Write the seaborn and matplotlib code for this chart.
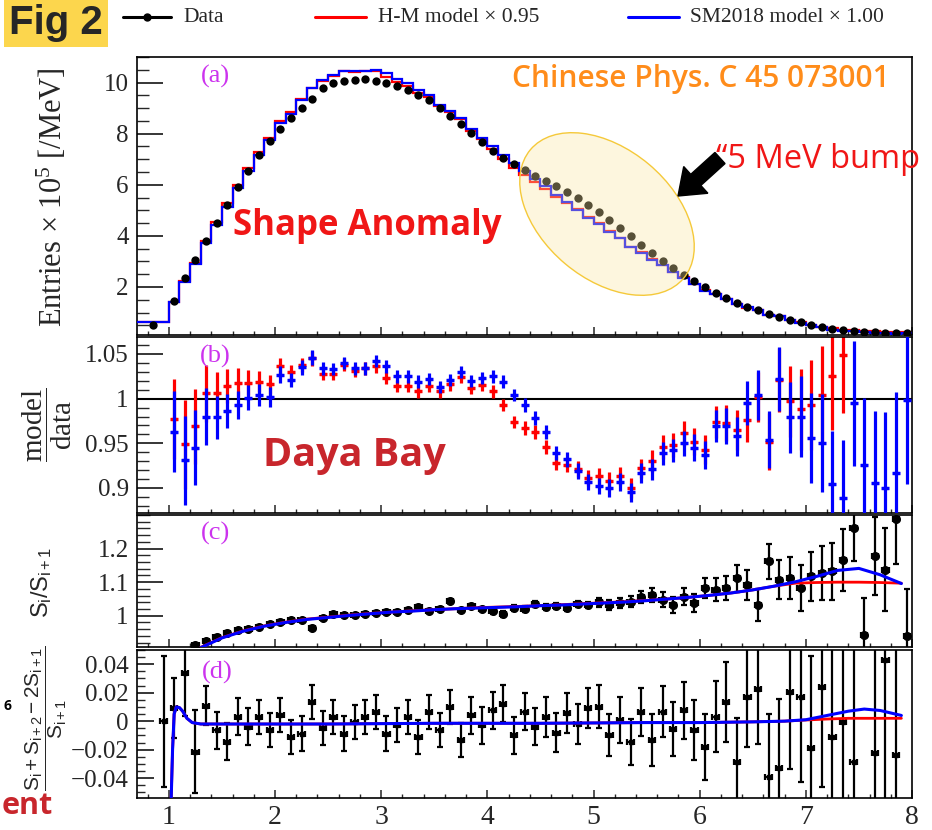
import numpy as np
import matplotlib
matplotlib.use("Agg")
import matplotlib.pyplot as plt
import seaborn as sns
from matplotlib.patches import Ellipse, FancyArrow
from matplotlib.lines import Line2D
from matplotlib.transforms import IdentityTransform
from matplotlib.ticker import MultipleLocator

# ---------------------------------------------------------------- data
energy = np.round(np.arange(1.05, 8.0, 0.1), 2)          # bin centres, MeV (0.1 MeV bins)
low_bin_edges = [0.7, 1.0]
low_bin_data = [0.51]
low_bin_model = [0.63]

data_a = [1.45, 2.35, 3.05, 3.78, 4.50, 5.20, 5.90, 6.52, 7.15, 7.72,
          8.20, 8.60, 9.00, 9.35, 9.78, 9.98, 10.06, 10.10, 10.12, 10.08,
          10.00, 9.88, 9.72, 9.53, 9.30, 9.02, 8.70, 8.36, 8.02, 7.66,
          7.33, 7.05, 6.82, 6.58, 6.36, 6.16, 5.95, 5.72, 5.47, 5.20,
          4.93, 4.62, 4.31, 3.98, 3.65, 3.33, 3.03, 2.74, 2.47, 2.22,
          1.98, 1.76, 1.56, 1.38, 1.22, 1.08, 0.95, 0.83, 0.72, 0.62,
          0.52, 0.44, 0.37, 0.31, 0.27, 0.24, 0.22, 0.20, 0.19, 0.18]

hm_ratio = [0.977, 0.949, 0.969, 1.006, 1.006, 1.014, 1.018, 1.018, 1.019, 1.016,
            1.036, 1.030, 1.038, 1.045, 1.028, 1.028, 1.038, 1.031, 1.034, 1.036,
            1.023, 1.014, 1.014, 1.008, 1.014, 1.008, 1.016, 1.024, 1.012, 1.015,
            1.008, 0.993, 0.974, 0.967, 0.963, 0.946, 0.928, 0.926, 0.921, 0.911,
            0.913, 0.908, 0.913, 0.900, 0.922, 0.930, 0.946, 0.948, 0.961, 0.952,
            0.943, 0.974, 0.973, 0.965, 0.976, 1.002, 0.952, 1.021, 0.997, 0.988,
            0.993, 1.004, 1.025, 1.049, 1.170, 1.220, 1.250, 1.200, 1.280, 1.240]

sm_ratio = [0.963, 0.931, 0.945, 0.980, 0.979, 0.986, 0.993, 1.001, 1.004, 1.002,
            1.027, 1.021, 1.035, 1.046, 1.034, 1.033, 1.040, 1.034, 1.034, 1.042,
            1.036, 1.025, 1.025, 1.019, 1.022, 1.013, 1.021, 1.030, 1.020, 1.023,
            1.025, 1.019, 1.004, 0.993, 0.978, 0.963, 0.939, 0.932, 0.919, 0.907,
            0.902, 0.900, 0.907, 0.895, 0.917, 0.921, 0.939, 0.942, 0.950, 0.945,
            0.937, 0.969, 0.969, 0.958, 0.995, 1.004, 0.954, 1.022, 0.979, 0.980,
            0.956, 0.950, 0.904, 0.889, 0.995, 0.926, 0.906, 0.900, 0.917, 0.999]

ratio_err = [0.045, 0.050, 0.042, 0.032, 0.024, 0.019, 0.016, 0.014, 0.012, 0.011,
             0.009, 0.008, 0.008, 0.008, 0.007, 0.007, 0.007, 0.007, 0.007, 0.007,
             0.007, 0.007, 0.007, 0.007, 0.007, 0.007, 0.007, 0.007, 0.007, 0.007,
             0.007, 0.007, 0.007, 0.008, 0.008, 0.008, 0.008, 0.008, 0.009, 0.009,
             0.009, 0.010, 0.010, 0.011, 0.011, 0.012, 0.013, 0.013, 0.014, 0.015,
             0.016, 0.018, 0.020, 0.022, 0.025, 0.028, 0.032, 0.036, 0.040, 0.045,
             0.050, 0.055, 0.060, 0.065, 0.070, 0.075, 0.080, 0.085, 0.090, 0.095]

c_energy = energy[2:]
c_vals = [0.913, 0.925, 0.938, 0.950, 0.958, 0.960, 0.968, 0.975,
          0.982, 0.986, 0.987, 0.965, 0.993, 1.004, 1.002, 1.001, 1.006, 1.009,
          1.010, 1.012, 1.016, 1.026, 1.015, 1.020, 1.043, 1.018, 1.028, 1.020,
          1.015, 1.006, 1.022, 1.020, 1.034, 1.026, 1.030, 1.024, 1.036, 1.031,
          1.040, 1.033, 1.038, 1.042, 1.057, 1.062, 1.048, 1.033, 1.057, 1.038,
          1.083, 1.078, 1.083, 1.112, 1.092, 1.033, 1.162, 1.107, 1.112, 1.083,
          1.117, 1.127, 1.132, 1.167, 1.262, 0.944, 1.177, 1.137, 1.287, 0.939]
c_err = [0.004, 0.004, 0.004, 0.004, 0.004, 0.004, 0.004, 0.004,
         0.004, 0.004, 0.004, 0.004, 0.004, 0.004, 0.004, 0.004, 0.004, 0.004,
         0.006, 0.006, 0.006, 0.006, 0.006, 0.006, 0.006, 0.006, 0.006, 0.006,
         0.009, 0.009, 0.009, 0.009, 0.009, 0.009, 0.009, 0.009, 0.009, 0.009,
         0.014, 0.015, 0.016, 0.017, 0.018, 0.020, 0.022, 0.024, 0.026, 0.028,
         0.030, 0.033, 0.036, 0.040, 0.044, 0.048, 0.053, 0.058, 0.063, 0.068,
         0.074, 0.080, 0.086, 0.092, 0.100, 0.108, 0.116, 0.124, 0.132, 0.140]

c_curve_x = np.round(np.arange(1.3, 7.95, 0.2), 2)
c_curve_sm = [0.905, 0.934, 0.954, 0.969, 0.980, 0.989, 0.995, 1.001, 1.006, 1.011,
              1.014, 1.018, 1.021, 1.023, 1.025, 1.027, 1.030, 1.032, 1.035, 1.038,
              1.041, 1.045, 1.050, 1.055, 1.061, 1.068, 1.077, 1.088, 1.101, 1.117,
              1.135, 1.141, 1.122, 1.096]
c_curve_hm = [0.906, 0.935, 0.955, 0.970, 0.981, 0.990, 0.996, 1.002, 1.007, 1.011,
              1.015, 1.018, 1.021, 1.024, 1.026, 1.028, 1.030, 1.033, 1.036, 1.039,
              1.042, 1.046, 1.050, 1.055, 1.061, 1.068, 1.077, 1.088, 1.097, 1.099,
              1.100, 1.100, 1.099, 1.097]

d_energy = np.round(np.arange(0.95, 8.0, 0.1), 2)
d_vals = [0.0,
          0.009, 0.0335, -0.0215, 0.011, -0.0063, -0.0145, 0.0030, -0.0040, 0.0030, -0.0063,
          0.0042, -0.0110, -0.0087, 0.0136, -0.0051, 0.0030, -0.0087, -0.0004, 0.0030, 0.0065,
          -0.0087, -0.0028, 0.0030, -0.0110, 0.0065, -0.0063, 0.0100, -0.0133, 0.0042, -0.0028,
          0.0077, 0.0124, -0.0098, 0.0065, -0.0040, 0.0030, -0.0080, 0.0060, -0.0020, 0.0090,
          0.0101, -0.0098, 0.0007, -0.0145, 0.0066, -0.0133, 0.0066, -0.0052, 0.0077, -0.0063,
          -0.0180, 0.0030, 0.0135, -0.0285, 0.0170, 0.0229, -0.0391, -0.0332, 0.0206, 0.0171,
          -0.0192, 0.0240, -0.0110, -0.0005, -0.0285, np.nan, -0.0227, 0.0428, -0.0239, np.nan]
d_err = [0.046,
         0.021, 0.030, 0.029, 0.014, 0.013, 0.013, 0.013, 0.013, 0.012, 0.012,
         0.012, 0.012, 0.012, 0.012, 0.012, 0.012, 0.012, 0.012, 0.012, 0.012,
         0.012, 0.012, 0.012, 0.012, 0.012, 0.012, 0.012, 0.012, 0.013, 0.013,
         0.013, 0.013, 0.013, 0.013, 0.013, 0.014, 0.014, 0.014, 0.014, 0.014,
         0.015, 0.015, 0.016, 0.016, 0.017, 0.018, 0.018, 0.019, 0.020, 0.021,
         0.023, 0.025, 0.028, 0.031, 0.035, 0.039, 0.044, 0.049, 0.054, 0.060,
         0.065, 0.070, 0.075, 0.080, 0.085, 0.090, 0.095, 0.100, 0.100, 0.100]

d_curve_x = [1.02, 1.035, 1.05, 1.07, 1.10, 1.13, 1.17, 1.22, 1.30, 1.6, 2.5, 3.5,
             4.5, 5.5, 6.0, 6.5, 6.8, 7.0, 7.2, 7.4, 7.55, 7.7, 7.9]
d_curve_sm = [-0.06, -0.02, 0.005, 0.010, 0.0095, 0.007, 0.002, -0.001, -0.002, -0.002,
              -0.002, -0.0015, -0.0015, -0.001, -0.001, -0.0005, 0.0, 0.001, 0.004,
              0.007, 0.0085, 0.0075, 0.004]
d_curve_hm = [-0.06, -0.02, 0.005, 0.010, 0.0095, 0.007, 0.002, -0.001, -0.002, -0.002,
              -0.002, -0.0015, -0.0015, -0.001, -0.001, -0.0005, 0.0, 0.0008, 0.0015,
              0.002, 0.002, 0.002, 0.002]

x_ticks = [1, 2, 3, 4, 5, 6, 7, 8]
x_ticklabels = ["1", "2", "3", "4", "5", "6", "7", "8"]
a_ticks = [2, 4, 6, 8, 10]
a_ticklabels = ["2", "4", "6", "8", "10"]
b_ticks = [0.9, 0.95, 1.0, 1.05]
b_ticklabels = ["0.9", "0.95", "1", "1.05"]
c_ticks = [1.0, 1.1, 1.2]
c_ticklabels = ["1", "1.1", "1.2"]
d_ticks = [-0.04, -0.02, 0.0, 0.02, 0.04]
d_ticklabels = ["\u22120.04", "\u22120.02", "0", "0.02", "0.04"]

legend_labels = ["Data", "H-M model \u00d7 0.95", "SM2018 model \u00d7 1.00"]

# ---------------------------------------------------------------- style
sns.set_style("white")
plt.rcParams["font.family"] = ["Liberation Serif", "DejaVu Serif"]
plt.rcParams["mathtext.fontset"] = "custom"
plt.rcParams["mathtext.rm"] = "Liberation Serif"
plt.rcParams["mathtext.it"] = "Liberation Serif:italic"
plt.rcParams["mathtext.sf"] = "Liberation Sans"
plt.rcParams["mathtext.bf"] = "Liberation Serif:bold"

W, H = 932, 830
fig = plt.figure(figsize=(W / 100, H / 100), dpi=100)
fig.patch.set_facecolor("white")


def rect(top, bottom, left=137, right=912):
    return [left / W, 1 - bottom / H, (right - left) / W, (bottom - top) / H]


def P(x, y):
    return (x / W, 1 - y / H)


ax_a = fig.add_axes(rect(57, 335))
ax_b = fig.add_axes(rect(337, 513))
ax_c = fig.add_axes(rect(515, 647))
ax_d = fig.add_axes(rect(650, 798))

RED, BLUE = "#ff0000", "#0000ff"
TAG = "#cc33ee"

# ---------------------------------------------------------------- panel (a)
data_arr = np.array(data_a)
edges = np.concatenate([low_bin_edges[:1], energy - 0.05, [8.0]])
hm_model = np.concatenate([low_bin_model, data_arr * np.array(hm_ratio)])
sm_model = np.concatenate([low_bin_model, data_arr * np.array(sm_ratio)])
ax_a.stairs(hm_model, edges, color=RED, lw=1.6, baseline=None, zorder=2)
ax_a.stairs(sm_model, edges, color=BLUE, lw=1.6, baseline=None, zorder=3)
xs_a = np.concatenate([[np.mean(low_bin_edges)], energy])
ys_a = np.concatenate([low_bin_data, data_arr])
sns.scatterplot(x=xs_a, y=ys_a, color="black", s=36, edgecolor="black",
                linewidth=0, ax=ax_a, zorder=4)
ax_a.set_ylim(0.12, 11.0)

# ---------------------------------------------------------------- panel (b)
ax_b.axhline(1.0, color="black", lw=1.5, zorder=1)
ax_b.errorbar(energy, hm_ratio, yerr=ratio_err, xerr=0.028, fmt="_", ms=6, mew=2.4,
              color=RED, ecolor=RED, elinewidth=2.3, capsize=0, zorder=2)
ax_b.errorbar(energy, sm_ratio, yerr=ratio_err, xerr=0.028, fmt="_", ms=6, mew=2.4,
              color=BLUE, ecolor=BLUE, elinewidth=2.3, capsize=0, zorder=3)
ax_b.set_ylim(0.872, 1.069)

# ---------------------------------------------------------------- panel (c)
ax_c.errorbar(c_energy, c_vals, yerr=c_err, xerr=0.03, fmt="o", ms=5.5,
              color="black", ecolor="black", elinewidth=1.6, capsize=2,
              capthick=1.6, zorder=2)
sns.lineplot(x=c_curve_x, y=c_curve_hm, color=RED, lw=2.0, ax=ax_c,
             estimator=None, sort=False, zorder=3)
sns.lineplot(x=c_curve_x, y=c_curve_sm, color=BLUE, lw=2.2, ax=ax_c,
             estimator=None, sort=False, zorder=4)
ax_c.set_ylim(0.907, 1.30)

# ---------------------------------------------------------------- panel (d)
ax_d.errorbar(d_energy, d_vals, yerr=d_err, xerr=0.03, fmt="s", ms=2.5,
              color="black", ecolor="black", elinewidth=1.6, capsize=2,
              capthick=1.6, zorder=2)
sns.lineplot(x=d_curve_x, y=d_curve_hm, color=RED, lw=2.0, ax=ax_d,
             estimator=None, sort=False, zorder=3)
sns.lineplot(x=d_curve_x, y=d_curve_sm, color=BLUE, lw=2.2, ax=ax_d,
             estimator=None, sort=False, zorder=4)
ax_d.set_ylim(-0.054, 0.05)

# ---------------------------------------------------------------- axes styling
tick_cfg = {
    ax_a: (a_ticks, a_ticklabels, 0.5, 19, 8.5),
    ax_b: (b_ticks, b_ticklabels, 0.01, 19, 8.5),
    ax_c: (c_ticks, c_ticklabels, 0.02, 18.5, 9),
    ax_d: (d_ticks, d_ticklabels, 0.005, 12, 6),
}
for ax, (yt, ytl, yminor, Lmaj, Lmin) in tick_cfg.items():
    ax.set_xlim(0.7, 8.0)
    ax.set_facecolor("white")
    for s in ax.spines.values():
        s.set_color("black")
        s.set_linewidth(1.2)
    ax.set_yticks(yt)
    ax.set_yticklabels(ytl, fontsize=18, family="Liberation Serif")
    ax.yaxis.set_minor_locator(MultipleLocator(yminor))
    ax.set_xticks(x_ticks)
    ax.xaxis.set_minor_locator(MultipleLocator(0.2))
    ax.tick_params(axis="y", which="major", direction="in", length=Lmaj,
                   width=1.3, left=True, right=False, pad=6)
    ax.tick_params(axis="y", which="minor", direction="in", length=Lmin,
                   width=1.0, left=True, right=False)
    ax.tick_params(axis="x", which="major", direction="in", length=6,
                   width=1.1, bottom=True, top=False)
    ax.tick_params(axis="x", which="minor", direction="in", length=3,
                   width=1.0, bottom=True, top=False)
    ax.set_xlabel("")
    ax.set_ylabel("")
    if ax is ax_d:
        ax.set_xticklabels(x_ticklabels, fontsize=20, family="Liberation Serif")
        ax.tick_params(axis="x", which="major", pad=5)
    else:
        ax.tick_params(axis="x", labelbottom=False)

# panel tags
for lab, (px, py) in zip(["(a)", "(b)", "(c)", "(d)"],
                         [(215, 76), (215, 356), (215, 533), (217, 672)]):
    fig.text(*P(px, py), lab, color=TAG, fontsize=19, family="Liberation Serif",
             ha="center", va="center")

# y labels
fig.text(*P(52, 197), "Entries \u00d7 10$^{5}$ [/MeV]", rotation=90,
         fontsize=22, ha="center", va="center", family="Liberation Serif")
fig.text(*P(47, 425), r"$\dfrac{\mathrm{model}}{\mathrm{data}}$", rotation=90,
         fontsize=21, ha="center", va="center")
fig.text(*P(42, 582), r"$\mathsf{S_{i}/S_{i+1}}$", rotation=90,
         fontsize=17, ha="center", va="center")
fig.text(*P(46, 718), r"$\dfrac{\mathsf{S_{i}+S_{i+2}-2S_{i+1}}}{\mathsf{S_{i+1}}}$",
         rotation=90, fontsize=15, ha="center", va="center")

# ---------------------------------------------------------------- legend (top)
leg_y = 1 - 17 / H
fig.add_artist(Line2D([123 / W, 171 / W], [leg_y, leg_y], color="black", lw=2.2))
fig.add_artist(Line2D([147 / W], [leg_y], color="black", marker="o", ms=5))
fig.add_artist(Line2D([315 / W, 366 / W], [leg_y, leg_y], color=RED, lw=2.2))
fig.add_artist(Line2D([628 / W, 679 / W], [leg_y, leg_y], color=BLUE, lw=2.2))
for lab, x0 in zip(legend_labels, [183, 378, 690]):
    fig.text(x0 / W, leg_y, lab, fontsize=15.5, family="Liberation Serif",
             ha="left", va="center")

# ---------------------------------------------------------------- overlays
fig.text(*P(56, 23), "Fig 2", fontsize=29, fontweight="bold",
         family="Liberation Sans", ha="center", va="center",
         bbox=dict(boxstyle="square,pad=0.12", facecolor="#fcd64d", edgecolor="none"))
fig.text(*P(512, 79), "Chinese Phys. C 45 073001", fontsize=21.5, color="#ff8c1a",
         family="Open Sans", fontweight="semibold", ha="left", va="center")
fig.text(*P(233, 226), "Shape Anomaly", fontsize=25, color="#f01616",
         family="Open Sans", fontweight="bold", ha="left", va="center")
fig.text(*P(263, 455), "Daya Bay", fontsize=28.5, color="#c8262c",
         family="Open Sans", fontweight="bold", ha="left", va="center")
fig.text(*P(716, 160), "\u201c5 MeV bump", fontsize=23.5, color="#f01616",
         family="Open Sans", ha="left", va="center")
fig.text(*P(2, 806), "ent", fontsize=22, color="#c8262c",
         family="Open Sans", fontweight="bold", ha="left", va="center")
fig.text(*P(3, 706), "6", fontsize=10, color="black",
         family="Open Sans", fontweight="bold", ha="left", va="center")

ell = Ellipse((607, H - 214), 200, 130, angle=-40, transform=IdentityTransform(),
              facecolor="#fbe7a1", alpha=0.35, edgecolor="none", zorder=5)
ell_edge = Ellipse((607, H - 214), 200, 130, angle=-40, transform=IdentityTransform(),
                   facecolor="none", edgecolor="#f5c93a", lw=1.0, zorder=6)
fig.add_artist(ell)
fig.add_artist(ell_edge)
arrow = FancyArrow(720, H - 158, -42, -38, width=15, head_width=36, head_length=24,
                   length_includes_head=True, transform=IdentityTransform(),
                   color="black", zorder=7)
fig.add_artist(arrow)

fig.savefig("out.png", dpi=100, facecolor="white")
